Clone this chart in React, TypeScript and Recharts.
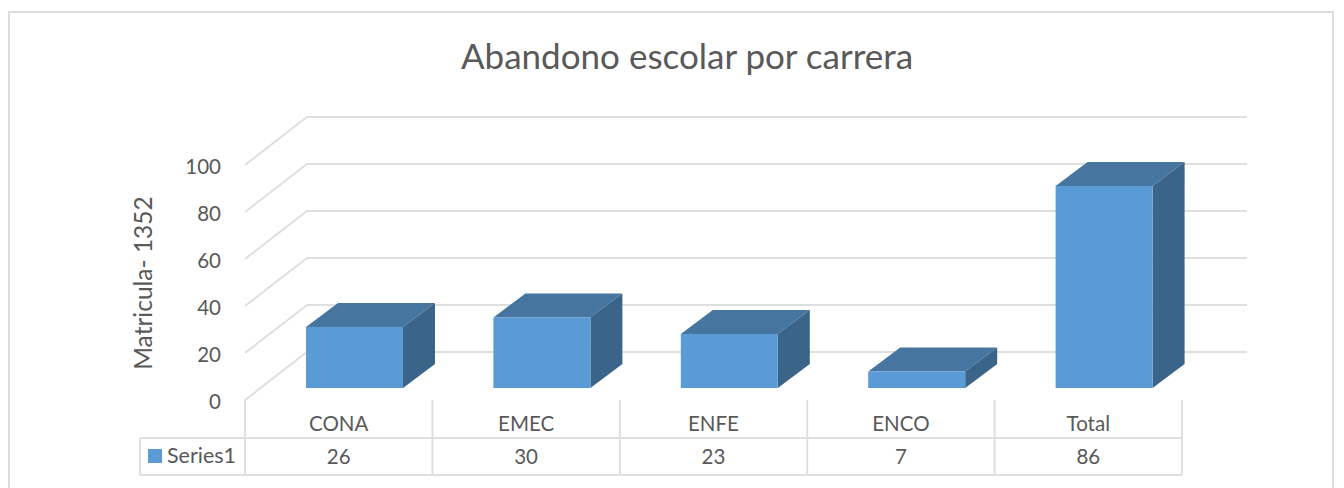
import { Bar, BarChart, CartesianGrid, XAxis, YAxis } from "recharts";

const categories = ["CONA", "EMEC", "ENFE", "ENCO", "Total"];
const seriesValues = [26, 30, 23, 7, 86];
const yTicks = [0, 20, 40, 60, 80, 100];

const chartData = categories.map((name, i) => ({ name, value: seriesValues[i] }));

const TEXT = "#595959";
const LINE = "#dfdfdf";
const FONT = "Lato, sans-serif";
const DEPTH_X = 32;
const DEPTH_Y = 24;
const BAND = 187.4;

// gridline runs along the side wall and then the back wall
function wallLine(props: any) {
  const { x1, y1, x2 } = props;
  return (
    <path
      key={y1}
      d={`M${x1} ${y1} L${x1 + 62} ${y1 - 48} L${x2 + 65} ${y1 - 48}`}
      fill="none"
      stroke={LINE}
      strokeWidth={2}
    />
  );
}

function Box3D(props: any) {
  const { x, y, width, height } = props;
  const left = x + 16;
  const top = y - 12;
  const right = left + width;
  const bottom = top + height;
  return (
    <g>
      <path
        d={`M${left} ${top} L${left + DEPTH_X} ${top - DEPTH_Y} L${right + DEPTH_X} ${top - DEPTH_Y} L${right} ${top} Z`}
        fill="#4675a0"
      />
      <path
        d={`M${right} ${top} L${right + DEPTH_X} ${top - DEPTH_Y} L${right + DEPTH_X} ${bottom - DEPTH_Y} L${right} ${bottom} Z`}
        fill="#3a6588"
      />
      <rect x={left} y={top} width={width} height={height} fill="#5b9bd5" />
    </g>
  );
}

// category label plus the data table cell underneath
function TableTick(props: any) {
  const { x, index, payload } = props;
  const leftEdge = x - BAND / 2;
  const rightEdge = x + BAND / 2;
  return (
    <g fontFamily={FONT}>
      {index === 0 && (
        <g>
          <path d={`M140 438 H${leftEdge} M140 475 H${leftEdge} M140 438 V475`} stroke={LINE} strokeWidth={2} fill="none" />
          <path d={`M${leftEdge} 400 V475`} stroke={LINE} strokeWidth={2} fill="none" />
          <rect x={148} y={449} width={14} height={14} fill="#5b9bd5" />
          <text x={167} y={463} fontSize={21.5} fill={TEXT}>
            Series1
          </text>
        </g>
      )}
      <path d={`M${rightEdge} 400 V475 M${leftEdge} 438 H${rightEdge} M${leftEdge} 475 H${rightEdge}`} stroke={LINE} strokeWidth={2} fill="none" />
      <text x={x} y={431} textAnchor="middle" fontSize={20.5} fill={TEXT}>
        {payload.value}
      </text>
      <text x={x} y={464} textAnchor="middle" fontSize={20.5} fill={TEXT}>
        {seriesValues[index]}
      </text>
    </g>
  );
}

export default function App() {
  return (
    <div style={{ position: "absolute", left: 0, top: 0, width: 1344, height: 488, overflow: "hidden", background: "#fff" }}>
      <div style={{ position: "absolute", left: 8, top: 11, width: 1322, height: 490, border: "2px solid #dcdcdc" }} />
      <div style={{ position: "absolute", left: 0, top: 0 }}>
        <BarChart
          width={1344}
          height={488}
          data={chartData}
          margin={{ top: 165, right: 162, bottom: 13, left: 0 }}
          barSize={97}
        >
          <CartesianGrid vertical={false} horizontal={wallLine} />
          <XAxis dataKey="name" height={75} axisLine={false} tickLine={false} interval={0} tick={TableTick} />
          <YAxis
            width={245}
            domain={[0, 100]}
            ticks={yTicks}
            axisLine={false}
            tickLine={false}
            tickMargin={18}
            tick={{ fill: TEXT, fontSize: 20.5, fontFamily: FONT, dy: 2 }}
          />
          <Bar dataKey="value" shape={Box3D} isAnimationActive={false} />
          <text x={687} y={68.5} textAnchor="middle" fontSize={35} fontFamily={FONT} fill={TEXT}>
            Abandono escolar por carrera
          </text>
          <text
            x={152}
            y={283}
            textAnchor="middle"
            fontSize={24.5}
            fontFamily={FONT}
            fill={TEXT}
            transform="rotate(-90 152 283)"
          >
            Matricula- 1352
          </text>
        </BarChart>
      </div>
    </div>
  );
}
